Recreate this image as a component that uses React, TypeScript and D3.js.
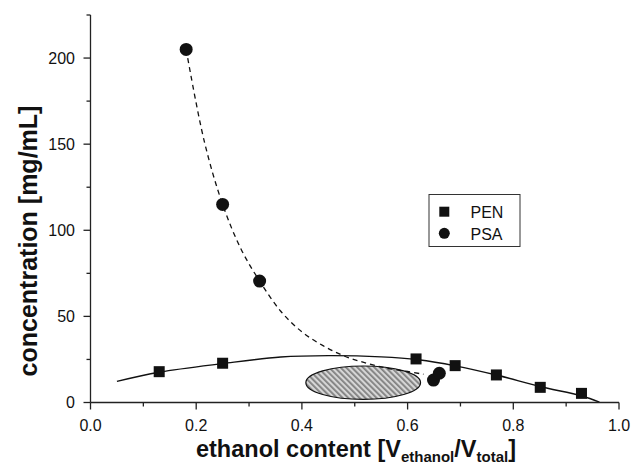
import React from "react";
import * as d3 from "d3";

const PEN_X = [0.13, 0.25, 0.616, 0.69, 0.768, 0.851, 0.929];
const PEN_Y = [17.9, 22.8, 25.3, 21.4, 16.0, 8.8, 5.3];
const PSA_X = [0.181, 0.25, 0.32, 0.649, 0.66];
const PSA_Y = [205, 115, 70.5, 13, 17];

// fitted curves
const PEN_FIT_X = [0.05, 0.13, 0.25, 0.36, 0.45, 0.55, 0.62, 0.69, 0.77, 0.85, 0.93, 0.963];
const PEN_FIT_Y = [12.3, 17.6, 22.6, 26.4, 27.2, 26.5, 24.8, 21.3, 15.8, 9.3, 3.8, 0.2];
const PSA_FIT_X = [0.181, 0.215, 0.25, 0.285, 0.32, 0.36, 0.4, 0.44, 0.48, 0.52, 0.56, 0.6, 0.63];
const PSA_FIT_Y = [205, 152, 115, 89, 70.5, 53, 41, 33, 27, 23, 20, 18, 16.4];

// hatched region (center, half-widths)
const REGION = { cx: 0.516, cy: 11.5, rx: 0.1085, ry: 9.7 };

const X_TICKS = [0, 0.2, 0.4, 0.6, 0.8, 1.0];
const X_MINOR = [0.1, 0.3, 0.5, 0.7, 0.9];
const Y_TICKS = [0, 50, 100, 150, 200];
const Y_MINOR = [25, 75, 125, 175, 225];
const LEGEND = ["PEN", "PSA"];

const FONT = "'Liberation Sans', Arial, Helvetica, sans-serif";

export default function App() {
  const x = d3.scaleLinear().domain([0, 1]).range([90.5, 619]);
  const y = d3.scaleLinear().domain([0, 225]).range([402.5, 15]);
  const axisColor = "#222";

  const penFit = d3
    .line<number>()
    .x((d, i) => x(PEN_FIT_X[i]))
    .y((d) => y(d))
    .curve(d3.curveCatmullRom.alpha(0.5))(PEN_FIT_Y);
  const psaFit = d3
    .line<number>()
    .x((d, i) => x(PSA_FIT_X[i]))
    .y((d) => y(d))
    .curve(d3.curveCatmullRom.alpha(0.5))(PSA_FIT_Y);

  const ecx = x(REGION.cx);
  const ecy = y(REGION.cy);
  const erx = x(REGION.cx + REGION.rx) - ecx;
  const ery = ecy - y(REGION.cy + REGION.ry);

  const sq = 11;
  return (
    <div style={{ position: "absolute", left: 0, top: 0 }}>
      <svg width={633} height={470} style={{ display: "block", background: "#fff" }} fontFamily={FONT}>
        <defs>
          <pattern id="hatch" width={4} height={4} patternUnits="userSpaceOnUse" patternTransform="rotate(-45)">
            <rect width={4} height={4} fill="#d6d6d6" />
            <rect width={1.8} height={4} fill="#808080" />
          </pattern>
        </defs>

        {/* hatched ellipse */}
        <ellipse cx={ecx} cy={ecy} rx={erx} ry={ery} fill="url(#hatch)" stroke="#111" strokeWidth={1.2} />

        {/* fit curves */}
        <path d={penFit || ""} fill="none" stroke="#111" strokeWidth={1.4} />
        <path d={psaFit || ""} fill="none" stroke="#111" strokeWidth={1.3} strokeDasharray="5,4" />

        {/* axes */}
        <line x1={x(0)} x2={x(1)} y1={y(0)} y2={y(0)} stroke={axisColor} strokeWidth={1.3} />
        <line x1={x(0)} x2={x(0)} y1={y(0)} y2={y(225)} stroke={axisColor} strokeWidth={1.3} />
        {X_TICKS.map((t) => (
          <g key={"xt" + t}>
            <line x1={x(t)} x2={x(t)} y1={y(0)} y2={y(0) + 7} stroke={axisColor} strokeWidth={1.3} />
            <text x={x(t)} y={430.5} textAnchor="middle" fontSize={16} fill="#111">
              {t.toFixed(1)}
            </text>
          </g>
        ))}
        {X_MINOR.map((t) => (
          <line key={"xm" + t} x1={x(t)} x2={x(t)} y1={y(0)} y2={y(0) + 4} stroke={axisColor} strokeWidth={1.3} />
        ))}
        {Y_TICKS.map((t) => (
          <g key={"yt" + t}>
            <line x1={x(0) - 7} x2={x(0)} y1={y(t)} y2={y(t)} stroke={axisColor} strokeWidth={1.3} />
            <text x={75} y={y(t)} dy="0.36em" textAnchor="end" fontSize={16} fill="#111">
              {t}
            </text>
          </g>
        ))}
        {Y_MINOR.map((t) => (
          <line key={"ym" + t} x1={x(0) - 4} x2={x(0)} y1={y(t)} y2={y(t)} stroke={axisColor} strokeWidth={1.3} />
        ))}

        {/* data */}
        {PEN_X.map((v, i) => (
          <rect key={"p" + i} x={x(v) - sq / 2} y={y(PEN_Y[i]) - sq / 2} width={sq} height={sq} fill="#111" />
        ))}
        {PSA_X.map((v, i) => (
          <circle key={"c" + i} cx={x(v)} cy={y(PSA_Y[i])} r={6.5} fill="#111" />
        ))}

        {/* legend */}
        <rect x={429} y={194.5} width={91} height={52} fill="#fff" stroke="#333" strokeWidth={1} />
        <rect x={444.3 - 5} y={211.7 - 5} width={10} height={10} fill="#111" />
        <circle cx={444.3} cy={233.3} r={5.5} fill="#111" />
        <text x={470.5} y={217.5} fontSize={16} fill="#111">{LEGEND[0]}</text>
        <text x={470.5} y={239.5} fontSize={16} fill="#111">{LEGEND[1]}</text>

        {/* axis titles */}
        <text
          transform={`translate(37,241) rotate(-90)`}
          textAnchor="middle"
          fontSize={25}
          fontWeight="bold"
          fill="#111"
        >
          concentration [mg/mL]
        </text>
        <text x={356} y={457} textAnchor="middle" fontSize={23.5} fontWeight="bold" fill="#111">
          ethanol content [V
          <tspan fontSize={15} dy={5}>ethanol</tspan>
          <tspan dy={-5}>/V</tspan>
          <tspan fontSize={15} dy={5}>total</tspan>
          <tspan dy={-5}>]</tspan>
        </text>
      </svg>
    </div>
  );
}
